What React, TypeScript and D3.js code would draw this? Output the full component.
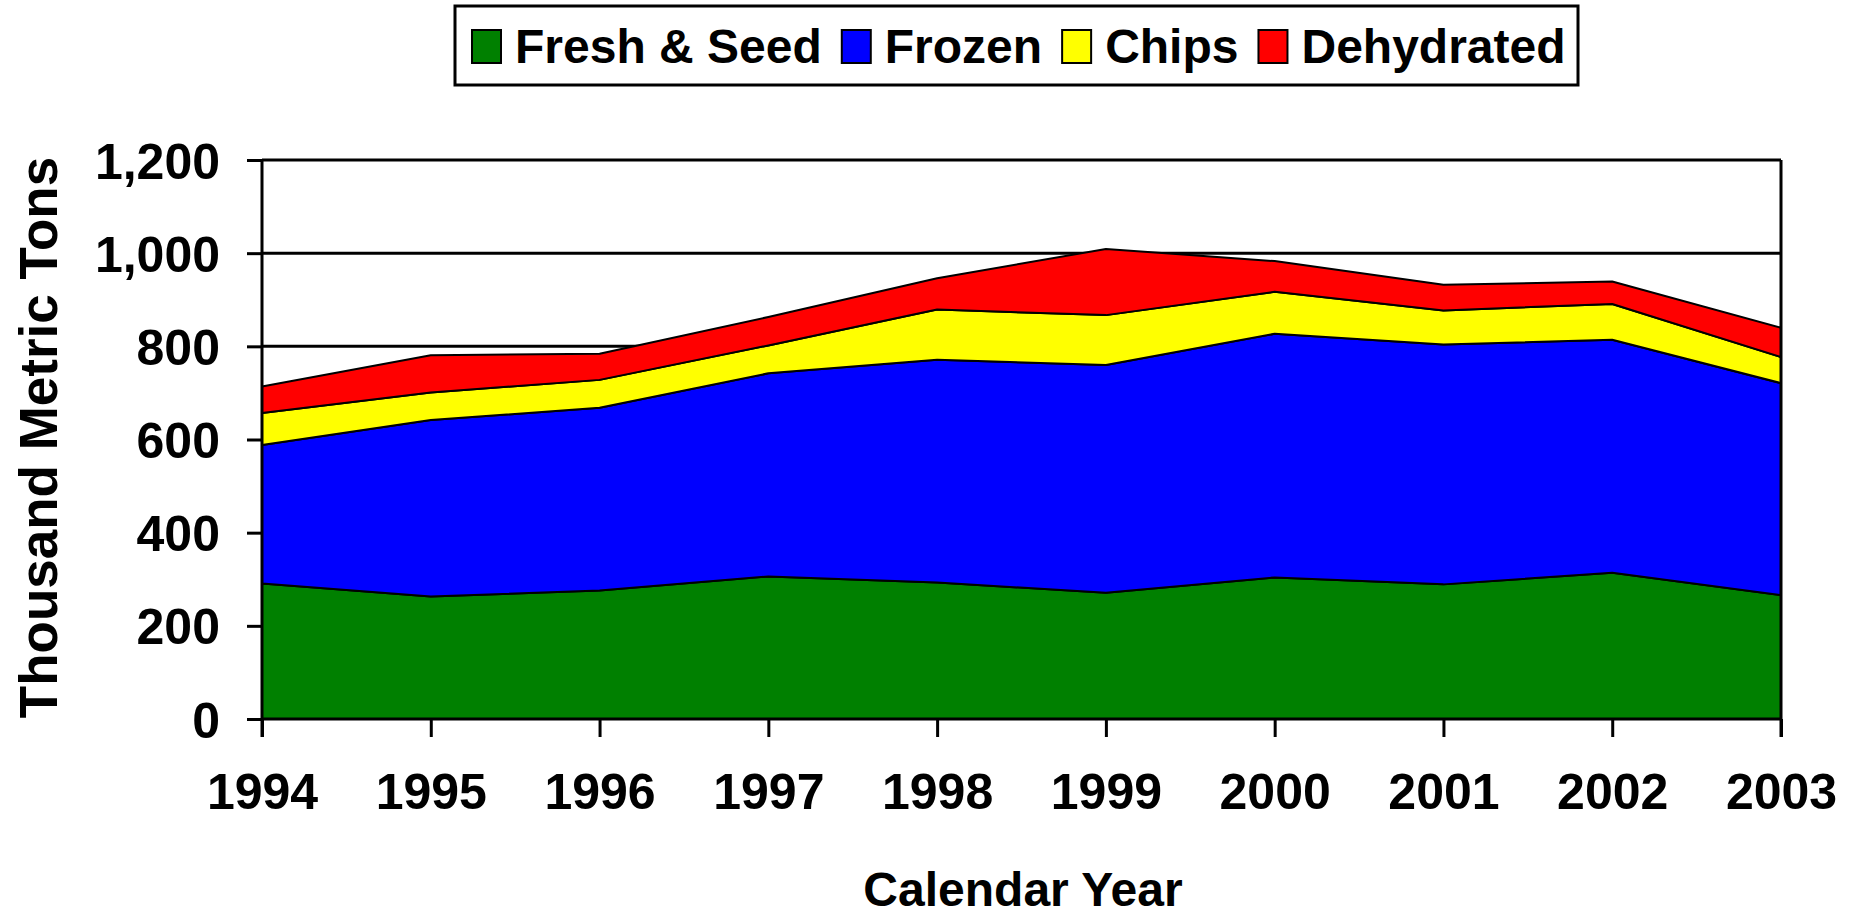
import React, { useEffect, useRef } from 'react';
import * as d3 from 'd3';

// Data (thousand metric tons)
const years = [1994, 1995, 1996, 1997, 1998, 1999, 2000, 2001, 2002, 2003];
const freshSeed = [291, 263, 276, 306, 293, 271, 304, 289, 314, 266];
const frozen = [297, 379, 392, 436, 478, 489, 523, 515, 500, 455];
const chips = [69, 59, 60, 60, 108, 107, 90, 73, 77, 56];
const dehydrated = [57, 80, 56, 61, 67, 142, 66, 55, 48, 63];

const seriesNames = ['Fresh & Seed', 'Frozen', 'Chips', 'Dehydrated'];
const seriesColors = ['#008000', '#0000ff', '#ffff00', '#ff0000'];
const yTicks = [0, 200, 400, 600, 800, 1000, 1200];

const W = 1858;
const H = 916;
const FONT = '"Liberation Sans", Arial, sans-serif';

export default function App() {
  const ref = useRef<SVGSVGElement | null>(null);

  useEffect(() => {
    const margin = { top: 160, right: 77, bottom: 197, left: 262 };
    const width = W - margin.left - margin.right;
    const height = H - margin.top - margin.bottom;

    const rows = years.map((year, i) => ({
      year,
      'Fresh & Seed': freshSeed[i],
      Frozen: frozen[i],
      Chips: chips[i],
      Dehydrated: dehydrated[i],
    }));

    const root = d3.select(ref.current);
    root.selectAll('*').remove();

    const svg = root
      .append('g')
      .attr('transform', `translate(${margin.left},${margin.top})`);

    const x = d3.scaleLinear().domain([years[0], years[years.length - 1]]).range([0, width]);
    const y = d3.scaleLinear().domain([0, 1200]).range([height, 0]);

    // Gridlines (behind the areas)
    svg
      .selectAll('line.grid')
      .data(yTicks.filter(t => t > 0))
      .enter()
      .append('line')
      .attr('class', 'grid')
      .attr('x1', 0)
      .attr('x2', width)
      .attr('y1', d => y(d))
      .attr('y2', d => y(d))
      .attr('stroke', '#000')
      .attr('stroke-width', 3);

    // Stacked areas
    const stack = d3.stack<any>().keys(seriesNames);
    const layers = stack(rows);

    const area = d3
      .area<any>()
      .x(d => x(d.data.year))
      .y0(d => y(d[0]))
      .y1(d => y(d[1]));

    svg
      .selectAll('path.layer')
      .data(layers)
      .enter()
      .append('path')
      .attr('class', 'layer')
      .attr('d', area)
      .attr('fill', (d, i) => seriesColors[i])
      .attr('stroke', '#000')
      .attr('stroke-width', 2)
      .attr('stroke-linejoin', 'round');

    // Right border
    svg
      .append('line')
      .attr('x1', width)
      .attr('x2', width)
      .attr('y1', 0)
      .attr('y2', height + 18)
      .attr('stroke', '#000')
      .attr('stroke-width', 3);

    // Y axis
    const yAxis = d3.axisLeft(y).tickValues(yTicks).tickSize(15).tickPadding(27).tickFormat(d3.format(','));
    const yAxisDraw = svg.append('g').call(yAxis);
    yAxisDraw.select('.domain').attr('stroke-width', 3).attr('d', `M0,0V${height + 18}`);
    yAxisDraw.selectAll('line').attr('stroke-width', 3);
    yAxisDraw
      .selectAll('text')
      .attr('font-family', FONT)
      .attr('font-weight', 'bold')
      .attr('font-size', 50)
      .attr('fill', '#000')
      .attr('dy', '0.36em');

    // X axis
    const xAxis = d3.axisBottom(x).tickValues(years).tickSize(18).tickPadding(36).tickFormat(d3.format('d'));
    const xAxisDraw = svg.append('g').attr('transform', `translate(0,${height})`).call(xAxis);
    xAxisDraw.select('.domain').attr('stroke-width', 3).attr('d', `M0,0H${width}`);
    xAxisDraw.selectAll('line').attr('stroke-width', 3);
    xAxisDraw
      .selectAll('text')
      .attr('font-family', FONT)
      .attr('font-weight', 'bold')
      .attr('font-size', 50)
      .attr('fill', '#000');

    // Axis titles
    svg
      .append('text')
      .attr('transform', `translate(${-margin.left + 57},${height / 2 - 2}) rotate(-90)`)
      .attr('text-anchor', 'middle')
      .attr('font-family', FONT)
      .attr('font-weight', 'bold')
      .attr('font-size', 53)
      .text('Thousand Metric Tons');

    svg
      .append('text')
      .attr('x', 1023 - margin.left)
      .attr('y', 906 - margin.top)
      .attr('text-anchor', 'middle')
      .attr('font-family', FONT)
      .attr('font-weight', 'bold')
      .attr('font-size', 48)
      .text('Calendar Year');

    // Legend
    const legend = root.append('g');
    legend
      .append('rect')
      .attr('x', 455)
      .attr('y', 6)
      .attr('width', 1123)
      .attr('height', 79)
      .attr('fill', '#fff')
      .attr('stroke', '#000')
      .attr('stroke-width', 3);

    let cx = 472;
    seriesNames.forEach((name, i) => {
      legend
        .append('rect')
        .attr('x', cx)
        .attr('y', 30)
        .attr('width', 29)
        .attr('height', 33)
        .attr('fill', seriesColors[i])
        .attr('stroke', '#000')
        .attr('stroke-width', 2);
      const t = legend
        .append('text')
        .attr('x', cx + 43)
        .attr('y', 63)
        .attr('font-family', FONT)
        .attr('font-weight', 'bold')
        .attr('font-size', 48)
        .text(name);
      const len = (t.node() as SVGTextElement).getComputedTextLength();
      cx += 43 + len + 20;
    });
  }, []);

  return (
    <svg
      ref={ref}
      width={W}
      height={H}
      style={{ position: 'absolute', left: 0, top: 0, background: '#fff' }}
    />
  );
}
